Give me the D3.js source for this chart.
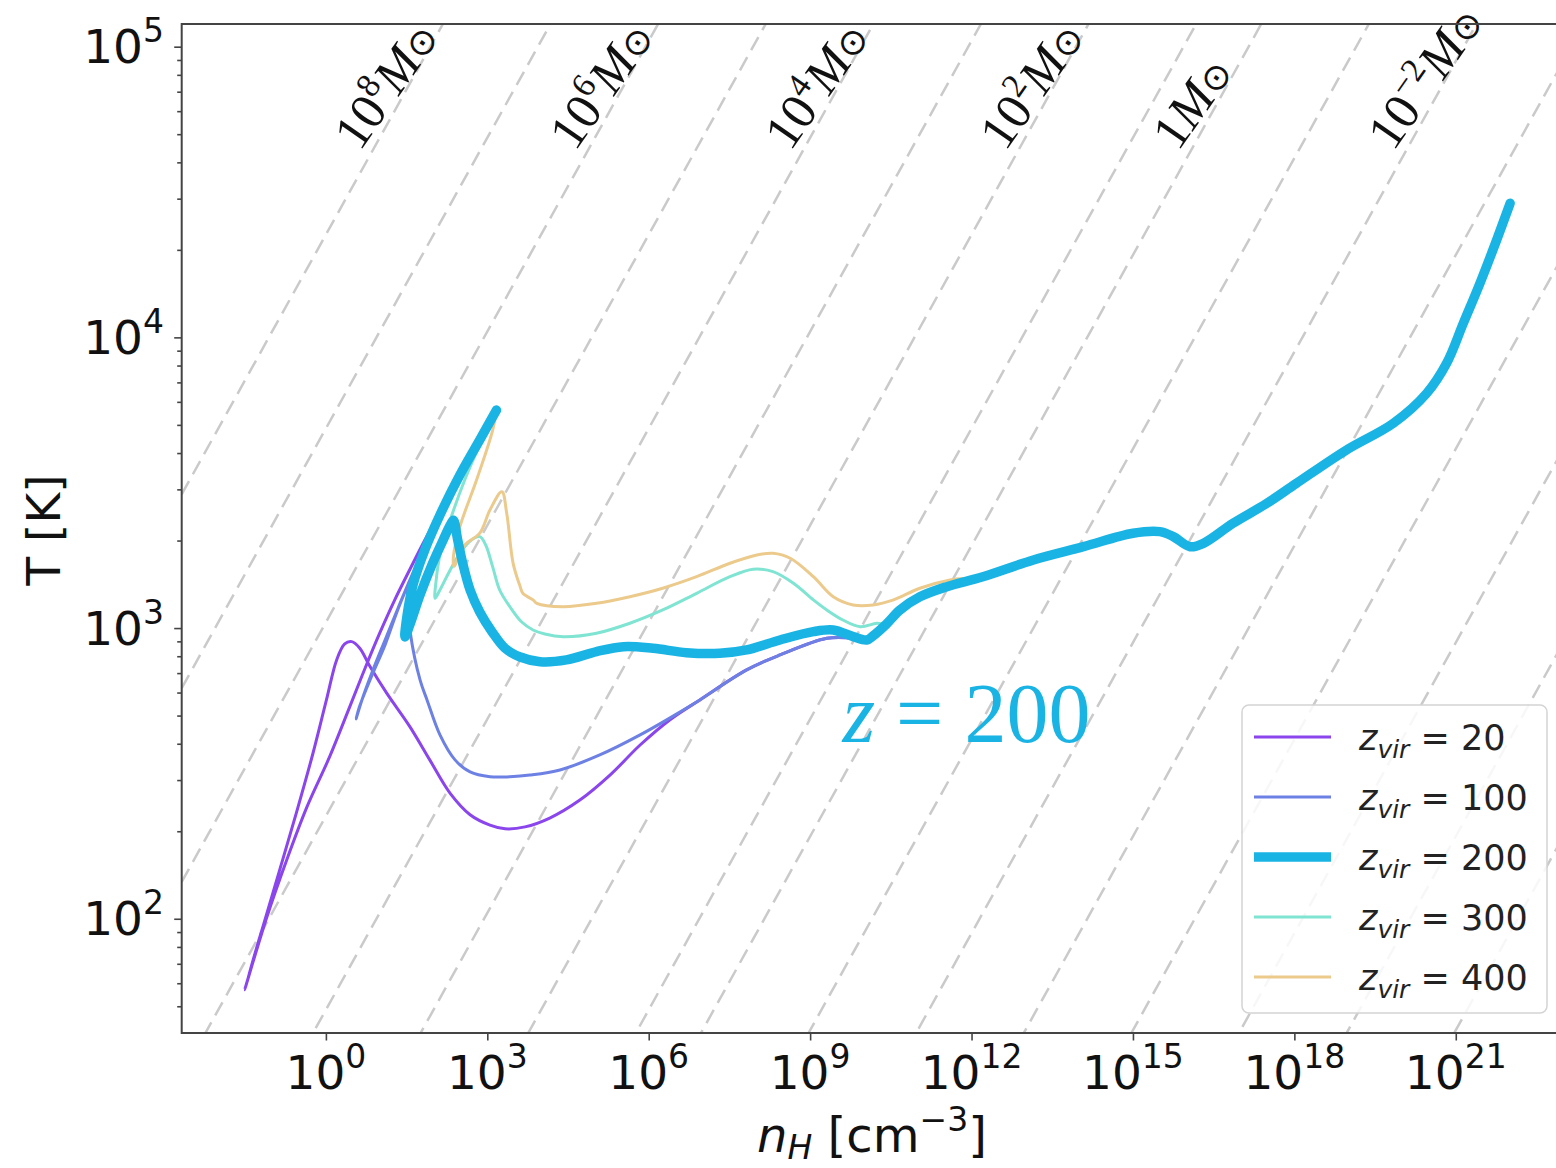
<!DOCTYPE html>
<html>
<head>
<meta charset="utf-8">
<script src="https://cdn.jsdelivr.net/npm/d3@7"></script>
<style>
  html, body { margin: 0; padding: 0; background: #fff; }
  svg { display: block; }
</style>
</head>
<body>
<svg id="chart" width="1556" height="1168"></svg>
<script>
// ---- data: [log10 nH (cm^-3), T (K)] along each collapse track ----
const zvirValues = [20, 100, 200, 300, 400];

const track20 = [
  [3.17, 5620], [2.81, 4210], [2.40, 3060], [2.18, 2610], [1.84, 2010], [1.56, 1590],
  [1.28, 1250], [1.00, 960], [0.73, 729], [0.45, 540], [0.07, 361], [-0.35, 243],
  [-0.73, 159], [-1.10, 101], [-1.51, 57], [-1.30, 78], [-1.17, 94], [-0.86, 147],
  [-0.55, 231], [-0.24, 371], [0.01, 566], [0.20, 777], [0.35, 882], [0.48, 898],
  [0.63, 852], [0.82, 737], [1.13, 597], [1.56, 458], [1.93, 352], [2.31, 270],
  [2.68, 228], [3.05, 210], [3.33, 204], [3.70, 207], [4.16, 222], [4.72, 256],
  [5.28, 312], [5.84, 396], [6.39, 483], [6.95, 566], [7.82, 718], [8.44, 808],
  [9.31, 922], [9.74, 925], [10.05, 910]
];

const track100 = [
  [3.17, 5620], [2.68, 3850], [2.27, 2760], [1.90, 2010], [1.60, 1520], [1.34, 1170],
  [1.10, 910], [0.86, 706], [0.67, 566], [0.56, 487], [0.63, 540], [0.86, 690],
  [1.10, 875], [1.30, 1110], [1.47, 1330], [1.50, 1360], [1.57, 960], [1.75, 663],
  [1.88, 566], [2.12, 429], [2.40, 352], [2.68, 320], [3.05, 308], [3.42, 308],
  [3.79, 312], [4.35, 325], [5.09, 366], [5.84, 429], [6.58, 514], [6.95, 566],
  [7.82, 718], [8.44, 808], [9.31, 922], [9.74, 925], [10.05, 910]
];

const track200 = [
  [3.17, 5620], [2.86, 4440], [2.49, 3360], [2.12, 2450], [1.84, 1860], [1.62, 1410],
  [1.51, 1110], [1.47, 932], [1.56, 1025], [1.75, 1300], [1.97, 1650], [2.18, 2010],
  [2.31, 2260], [2.37, 2350], [2.45, 2009], [2.55, 1649], [2.68, 1352], [2.86, 1136],
  [3.09, 970], [3.33, 852], [3.61, 795], [3.98, 766], [4.47, 777], [5.03, 830],
  [5.53, 863], [6.08, 852], [6.70, 823], [7.32, 819], [7.82, 841], [8.44, 910],
  [9.06, 972], [9.43, 985], [9.80, 934], [10.05, 910]
];

const track300 = [
  [3.17, 5620], [2.86, 4265], [2.58, 3230], [2.31, 2350], [2.12, 1784], [2.05, 1464],
  [2.03, 1266], [2.12, 1352], [2.31, 1585], [2.49, 1808], [2.68, 1993], [2.86, 2063],
  [2.97, 1931], [3.10, 1623], [3.23, 1352], [3.42, 1184], [3.64, 1049], [3.85, 985],
  [4.07, 954], [4.41, 934], [5.03, 960], [5.65, 1039], [6.26, 1154], [6.89, 1317],
  [7.51, 1502], [7.94, 1594], [8.31, 1563], [8.69, 1426], [9.06, 1250], [9.31, 1154],
  [9.61, 1066], [9.93, 1011], [10.24, 1039]
];

const track400 = [
  [3.17, 5620], [3.10, 4800], [2.80, 3230], [2.49, 2230], [2.37, 1760], [2.38, 1630],
  [2.58, 1930], [2.86, 2120], [3.05, 2550], [3.27, 2945], [3.36, 2490], [3.48, 1670],
  [3.61, 1390], [3.66, 1317], [3.85, 1250], [3.92, 1217], [4.41, 1185], [5.03, 1217],
  [5.65, 1282], [6.26, 1371], [6.89, 1502], [7.51, 1671], [8.01, 1784], [8.31, 1808],
  [8.63, 1738], [9.06, 1502], [9.43, 1282], [9.80, 1201], [10.17, 1201], [10.55, 1250],
  [11.04, 1371], [11.60, 1464]
];

// high-density part where all tracks coincide
const sharedTrack = [
  [10.17, 940], [10.42, 1033], [10.67, 1154], [11.04, 1281], [11.54, 1388], [12.21, 1502],
  [13.15, 1715], [14.08, 1905], [15.00, 2119], [15.50, 2146], [15.75, 2063], [16.06, 1905],
  [16.31, 1957], [16.86, 2293], [17.49, 2687], [18.04, 3148], [18.97, 4100], [19.84, 5064],
  [20.46, 6423], [20.83, 8143], [21.14, 11180], [21.45, 15355], [21.76, 21630], [22.01, 28930]
];

// Jeans-mass guide lines (log10 M / Msun); atomic and molecular mean weight
const massExpAtomic = [8, 7, 6, 5, 4, 3, 2, 1];
const massExpMolecular = [0, -1, -2, -3, -4, -5, -6, -7];
const jeansOffset = { atomic: 1.47, molecular: 1.075 };   // log M = 1.5 log T - 0.5 log n + offset
const massLabelExp = [8, 6, 4, 2, 0, -2];

const yMajorTicks = [1e2, 1e3, 1e4, 1e5];
const xMajorExp = [0, 3, 6, 9, 12, 15, 18, 21];

// ---- layout & style ----
const plot = { left: 181.7, right: 1558, top: 24, bottom: 1033 };
const colors = ['#8a45ec', '#6d80e4', '#1ab4e4', '#7fe4d2', '#ebca8c'];
const widths = [3, 3, 9.5, 3, 3];
const drawOrder = [0, 1, 3, 4, 2];

const svg = d3.select('#chart');
const x = d3.scaleLog().domain([10 ** -2.68, 10 ** 22.9]).range([plot.left, plot.right]);
const y = d3.scaleLog().domain([10 ** 1.607, 10 ** 5.078]).range([plot.bottom, plot.top]);

svg.append('defs').append('clipPath').attr('id', 'plotClip')
  .append('rect')
  .attr('x', plot.left).attr('y', plot.top)
  .attr('width', plot.right - plot.left).attr('height', plot.bottom - plot.top);

const body = svg.append('g').attr('clip-path', 'url(#plotClip)');

// Jeans-mass lines
const nEnds = x.domain().map(Math.log10);
function jeansLine(logM, off) {
  return nEnds.map(ln => [ln, 10 ** ((logM - off + 0.5 * ln) / 1.5)]);
}
const guideLines = [
  ...massExpAtomic.map(m => jeansLine(m, jeansOffset.atomic)),
  ...massExpMolecular.map(m => jeansLine(m, jeansOffset.molecular))
];
const lineGen = d3.line().x(d => x(10 ** d[0])).y(d => y(d[1]));
body.selectAll('path.guide').data(guideLines).join('path')
  .attr('class', 'guide')
  .attr('d', lineGen)
  .attr('fill', 'none')
  .attr('stroke', '#cacaca')
  .attr('stroke-width', 2.5)
  .attr('stroke-dasharray', '15 8');

// collapse tracks
const tracks = [track20, track100, track200, track300, track400].map(tr => {
  const last = tr[tr.length - 1][0];
  return tr.concat(sharedTrack.filter(p => p[0] > last));
});
const curveGen = d3.line()
  .x(d => x(10 ** d[0])).y(d => y(d[1]))
  .curve(d3.curveCatmullRom.alpha(0.5));
body.selectAll('path.track').data(drawOrder).join('path')
  .attr('class', 'track')
  .attr('d', i => curveGen(tracks[i]))
  .attr('fill', 'none')
  .attr('stroke', i => colors[i])
  .attr('stroke-width', i => widths[i])
  .attr('stroke-linejoin', 'round')
  .attr('stroke-linecap', 'round');

// mass labels along the guide lines
const labelT = 44000;
const serif = "'Liberation Serif', 'Times New Roman', 'DejaVu Serif', serif";
massLabelExp.forEach(k => {
  const off = k >= 1 ? jeansOffset.atomic : jeansOffset.molecular;
  const ln = 2 * (1.5 * Math.log10(labelT) + off - k);
  const px = x(10 ** ln) - 13, py = y(labelT) + 2;
  const t = svg.append('text')
    .attr('transform', `translate(${px},${py}) rotate(-55)`)
    .attr('font-family', serif).attr('font-size', 51).attr('fill', '#111');
  if (k === 0) {
    t.append('tspan').text('1');
  } else {
    t.append('tspan').text('10');
    t.append('tspan').attr('font-size', 34).attr('dy', -20).text(k < 0 ? '\u2212' + (-k) : String(k));
  }
  t.append('tspan').attr('font-style', 'italic').attr('dy', k === 0 ? 0 : 20).text('M');
  t.append('tspan').attr('font-family', "'DejaVu Sans', sans-serif").attr('font-size', 36).text('\u2299');
});

// annotation
const ann = svg.append('text')
  .attr('x', x(10 ** 9.6)).attr('y', y(405))
  .attr('font-family', serif).attr('font-size', 84).attr('fill', '#1ab4e4');
ann.append('tspan').attr('font-style', 'italic').text('z');
ann.append('tspan').text(' = 200');

// axes frame
svg.append('rect')
  .attr('x', plot.left).attr('y', plot.top)
  .attr('width', plot.right - plot.left).attr('height', plot.bottom - plot.top)
  .attr('fill', 'none').attr('stroke', '#444').attr('stroke-width', 2);

const sans = "'DejaVu Sans', sans-serif";

// y axis ticks
const yMinor = [];
for (let e = 1; e <= 5; e++) for (let k = 2; k <= 9; k++) {
  const v = k * 10 ** e;
  if (v >= y.domain()[0] && v <= y.domain()[1]) yMinor.push(v);
}
const yAxisMinor = d3.axisLeft(y).tickValues(yMinor).tickSize(4.5).tickFormat('');
const yAxisMajor = d3.axisLeft(y).tickValues(yMajorTicks).tickSize(7.5).tickFormat('');
[yAxisMinor, yAxisMajor].forEach(ax => {
  const g = svg.append('g').attr('transform', `translate(${plot.left},0)`).call(ax);
  g.select('.domain').remove();
  g.selectAll('line').attr('stroke', '#444').attr('stroke-width', 1.6);
});
yMajorTicks.forEach(v => {
  const t = svg.append('text')
    .attr('x', 164).attr('y', y(v) + 16.5)
    .attr('text-anchor', 'end')
    .attr('font-family', sans).attr('font-size', 47).attr('fill', '#111');
  t.append('tspan').text('10');
  t.append('tspan').attr('font-size', 33).attr('dy', -21).text(String(Math.round(Math.log10(v))));
});

// x axis ticks
const xAxis = d3.axisBottom(x).tickValues(xMajorExp.map(e => 10 ** e)).tickSize(7.5).tickFormat('');
const gx = svg.append('g').attr('transform', `translate(0,${plot.bottom})`).call(xAxis);
gx.select('.domain').remove();
gx.selectAll('line').attr('stroke', '#444').attr('stroke-width', 1.6);
xMajorExp.forEach(e => {
  const t = svg.append('text')
    .attr('x', x(10 ** e)).attr('y', 1089)
    .attr('text-anchor', 'middle')
    .attr('font-family', sans).attr('font-size', 47).attr('fill', '#111');
  t.append('tspan').text('10');
  t.append('tspan').attr('font-size', 33).attr('dy', -21).text(String(e));
});

// axis titles
svg.append('text')
  .attr('transform', `translate(60,530) rotate(-90)`)
  .attr('text-anchor', 'middle')
  .attr('font-family', sans).attr('font-size', 47).attr('fill', '#111')
  .text('T [K]');
const xt = svg.append('text')
  .attr('x', 872).attr('y', 1152)
  .attr('text-anchor', 'middle')
  .attr('font-family', sans).attr('font-size', 48).attr('fill', '#111');
xt.append('tspan').attr('font-style', 'italic').text('n');
xt.append('tspan').attr('font-style', 'italic').attr('font-size', 33).attr('dy', 7).text('H');
xt.append('tspan').attr('dy', -7).text(' [cm');
xt.append('tspan').attr('font-size', 33).attr('dy', -21).text('\u22123');
xt.append('tspan').attr('dy', 21).text(']');

// legend
const lg = svg.append('g');
lg.append('rect')
  .attr('x', 1242).attr('y', 705).attr('width', 305).attr('height', 308)
  .attr('rx', 7).attr('fill', 'rgba(255,255,255,0.85)')
  .attr('stroke', '#d4d4d4').attr('stroke-width', 1.5);
zvirValues.forEach((z, i) => {
  const ly = 737 + i * 60;
  lg.append('line')
    .attr('x1', 1254).attr('x2', 1331).attr('y1', ly).attr('y2', ly)
    .attr('stroke', colors[i]).attr('stroke-width', widths[i]);
  const t = lg.append('text')
    .attr('x', 1359).attr('y', ly + 13)
    .attr('font-family', sans).attr('font-size', 35).attr('fill', '#222');
  t.append('tspan').attr('font-style', 'italic').text('z');
  t.append('tspan').attr('font-style', 'italic').attr('font-size', 25).attr('dy', 8).text('vir');
  t.append('tspan').attr('dy', -8).text(' = ' + z);
});
</script>
</body>
</html>
